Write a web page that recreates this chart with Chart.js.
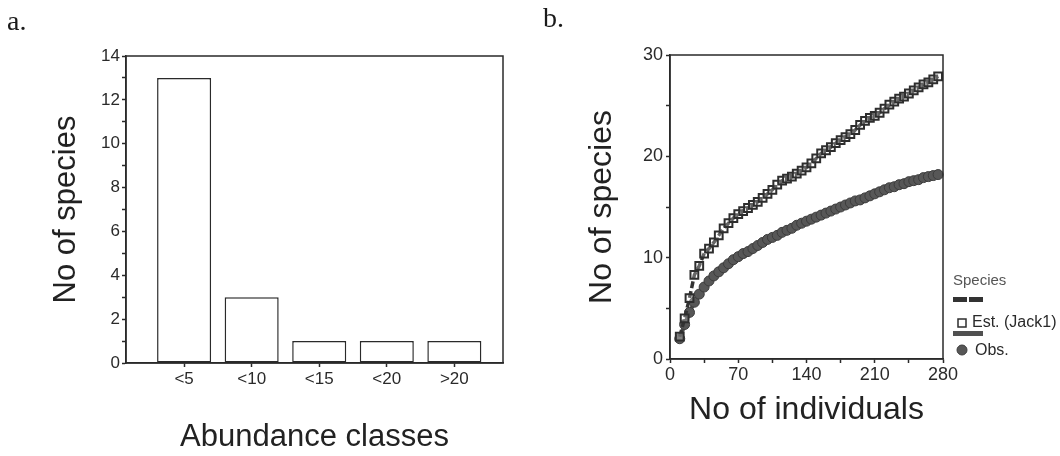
<!DOCTYPE html>
<html lang="en">
<head>
    <meta charset="UTF-8">
    <title>Species abundance and accumulation</title>
    <style>
        body {
            margin: 0;
            background-color: #fff;
        }
        #wrap {
            position: relative;
            width: 1060px;
            height: 456px;
            overflow: hidden;
        }
        .panel {
            position: absolute;
            top: 0;
            width: 530px;
            height: 456px;
        }
        #panelA { left: 0; }
        #panelB { left: 530px; }
    </style>
    <script src="https://cdn.jsdelivr.net/npm/chart.js"></script>
</head>
<body>
    <div id="wrap">
        <div class="panel" id="panelA"><canvas id="abundChart"></canvas></div>
        <div class="panel" id="panelB"><canvas id="accumChart"></canvas></div>
    </div>

    <script>
        // a. number of species per abundance class
        const abundanceClasses = ['<5', '<10', '<15', '<20', '>20'];
        const speciesCount = [13, 3, 1, 1, 1];

        // b. accumulation curves: sample size vs species
        const individuals = [10, 15, 20, 25, 30, 35, 40, 45, 50, 55, 60, 65, 70, 75, 80, 85, 90, 95,
            100, 105, 110, 115, 120, 125, 130, 135, 140, 145, 150, 155, 160, 165, 170, 175, 180, 185,
            190, 195, 200, 205, 210, 215, 220, 225, 230, 235, 240, 245, 250, 255, 260, 265, 270, 275];
        const estJack1 = [2.2, 4.0, 6.0, 8.3, 9.2, 10.4, 10.9, 11.5, 12.2, 12.9, 13.4, 13.9, 14.3, 14.6,
            14.9, 15.2, 15.5, 15.9, 16.3, 16.7, 17.2, 17.6, 17.8, 18.0, 18.3, 18.6, 18.9, 19.3, 19.8,
            20.3, 20.6, 20.9, 21.3, 21.6, 21.9, 22.2, 22.6, 23.1, 23.5, 23.8, 24.0, 24.3, 24.7, 25.1,
            25.4, 25.7, 25.9, 26.2, 26.5, 26.8, 27.1, 27.3, 27.6, 27.9];
        const observed = [2.0, 3.4, 4.6, 5.6, 6.4, 7.1, 7.7, 8.2, 8.6, 9.0, 9.4, 9.8, 10.1, 10.4,
            10.6, 10.9, 11.2, 11.5, 11.8, 12.0, 12.2, 12.5, 12.7, 12.9, 13.2, 13.4, 13.6, 13.8, 14.0,
            14.2, 14.4, 14.6, 14.8, 15.0, 15.2, 15.4, 15.6, 15.7, 15.9, 16.1, 16.3, 16.5, 16.7, 16.9,
            17.0, 17.2, 17.3, 17.5, 17.6, 17.7, 17.9, 18.0, 18.1, 18.2];

        const sans = '"Liberation Sans", Arial, sans-serif';
        const ink = '#2a2a2a';
        Chart.defaults.font.family = sans;
        Chart.defaults.color = ink;

        // box around the plot area plus the panel letter
        const panelFrame = {
            id: 'panelFrame',
            afterDraw(chart, args, opts) {
                const { ctx, chartArea: a } = chart;
                ctx.save();
                ctx.strokeStyle = ink;
                ctx.lineWidth = 1.5;
                ctx.strokeRect(a.left, a.top, a.right - a.left, a.bottom - a.top);
                ctx.fillStyle = '#1a1a1a';
                ctx.font = '28px "Liberation Serif", "DejaVu Serif", serif';
                ctx.textBaseline = 'alphabetic';
                ctx.fillText(opts.tag, opts.tagX, opts.tagY);
                ctx.restore();
            }
        };

        // "Species" key drawn to the right of panel b
        const speciesKey = {
            id: 'speciesKey',
            afterDraw(chart) {
                const ctx = chart.ctx;
                const x = chart.chartArea.right + 10;
                const est = chart.data.datasets[0];
                const obs = chart.data.datasets[1];
                ctx.save();
                ctx.textBaseline = 'middle';
                ctx.font = '15px ' + sans;
                ctx.fillStyle = '#555';
                ctx.fillText('Species', x, 281);

                // dashed swatch
                ctx.fillStyle = est.borderColor;
                ctx.fillRect(x, 297, 14, 5);
                ctx.fillRect(x + 16, 297, 14, 5);
                // square marker
                ctx.fillStyle = '#fff';
                ctx.strokeStyle = est.pointBorderColor;
                ctx.lineWidth = 1.5;
                ctx.fillRect(x + 5, 319, 8, 8);
                ctx.strokeRect(x + 5, 319, 8, 8);
                ctx.fillStyle = ink;
                ctx.font = '16px ' + sans;
                ctx.fillText('Est. (Jack1)', x + 19, 323);

                // solid swatch
                ctx.fillStyle = obs.borderColor;
                ctx.fillRect(x, 331, 30, 5);
                // circle marker
                ctx.beginPath();
                ctx.arc(x + 9, 350, 5, 0, Math.PI * 2);
                ctx.fillStyle = obs.pointBackgroundColor;
                ctx.fill();
                ctx.strokeStyle = obs.pointBorderColor;
                ctx.lineWidth = 1;
                ctx.stroke();
                ctx.fillStyle = ink;
                ctx.fillText('Obs.', x + 22, 351);
                ctx.restore();
            }
        };

        const tickGrid = {
            drawOnChartArea: false,
            tickLength: 4,
            tickColor: ink,
            tickWidth: 1.5,
            offset: false
        };

        new Chart(document.getElementById('abundChart'), {
            type: 'bar',
            data: {
                datasets: [{
                    data: abundanceClasses.map((c, i) => ({ x: i, y: speciesCount[i] })),
                    backgroundColor: '#fff',
                    borderColor: ink,
                    borderWidth: 1.5,
                    borderSkipped: false,
                    barPercentage: 0.8,
                    categoryPercentage: 1
                }]
            },
            options: {
                responsive: true,
                maintainAspectRatio: false,
                animation: false,
                layout: { padding: { top: 56, right: 27, left: 0, bottom: 0 } },
                plugins: {
                    legend: { display: false },
                    tooltip: { enabled: false },
                    panelFrame: { tag: 'a.', tagX: 7, tagY: 30 }
                },
                scales: {
                    x: {
                        type: 'linear',
                        min: -0.86,
                        max: 4.72,
                        offset: false,
                        afterBuildTicks: s => { s.ticks = abundanceClasses.map((c, i) => ({ value: i })); },
                        afterFit: s => { s.height = 93; },
                        grid: tickGrid,
                        border: { color: ink, width: 1.5 },
                        ticks: {
                            callback: v => abundanceClasses[v],
                            font: { size: 17 },
                            padding: 2,
                            maxRotation: 0,
                            autoSkip: false
                        },
                        title: {
                            display: true,
                            text: 'Abundance classes',
                            font: { size: 31 },
                            color: '#222',
                            padding: { top: 0, bottom: 0 }
                        }
                    },
                    y: {
                        min: 0,
                        max: 14,
                        afterFit: s => { s.width = 126; },
                        grid: tickGrid,
                        border: { color: ink, width: 1.5 },
                        ticks: {
                            stepSize: 1,
                            autoSkip: false,
                            callback: v => (v % 2 === 0 ? v : ''),
                            font: { size: 17 },
                            padding: 2
                        },
                        title: {
                            display: true,
                            text: 'No of species',
                            font: { size: 31 },
                            color: '#222',
                            padding: { top: 48, bottom: 0 }
                        }
                    }
                }
            },
            plugins: [panelFrame]
        });

        new Chart(document.getElementById('accumChart'), {
            type: 'line',
            data: {
                datasets: [{
                    label: 'Est. (Jack1)',
                    data: individuals.map((n, i) => ({ x: n, y: estJack1[i] })),
                    borderColor: '#333',
                    borderWidth: 3.5,
                    borderDash: [7, 3],
                    pointStyle: 'rect',
                    pointRadius: 5.5,
                    pointBackgroundColor: 'rgba(255,255,255,0.25)',
                    pointBorderColor: '#2e2e2e',
                    pointBorderWidth: 2,
                    tension: 0,
                    clip: false
                }, {
                    label: 'Obs.',
                    data: individuals.map((n, i) => ({ x: n, y: observed[i] })),
                    borderColor: '#505050',
                    borderWidth: 4,
                    pointStyle: 'circle',
                    pointRadius: 5,
                    pointBackgroundColor: '#575757',
                    pointBorderColor: '#3c3c3c',
                    pointBorderWidth: 1,
                    tension: 0,
                    clip: false
                }]
            },
            options: {
                responsive: true,
                maintainAspectRatio: false,
                animation: false,
                layout: { padding: { top: 55, right: 117, left: 0, bottom: 0 } },
                plugins: {
                    legend: { display: false },
                    tooltip: { enabled: false },
                    panelFrame: { tag: 'b.', tagX: 13, tagY: 27 }
                },
                scales: {
                    x: {
                        type: 'linear',
                        min: 0,
                        max: 280,
                        afterFit: s => { s.height = 97; },
                        grid: tickGrid,
                        border: { color: ink, width: 1.5 },
                        ticks: {
                            stepSize: 35,
                            autoSkip: false,
                            maxRotation: 0,
                            callback: v => (v % 70 === 0 ? v : ''),
                            font: { size: 18 },
                            padding: 1
                        },
                        title: {
                            display: true,
                            text: 'No of individuals',
                            font: { size: 32 },
                            color: '#222',
                            padding: { top: 0, bottom: 27 }
                        }
                    },
                    y: {
                        min: 0,
                        max: 30,
                        afterFit: s => { s.width = 140; },
                        grid: tickGrid,
                        border: { color: ink, width: 1.5 },
                        ticks: {
                            stepSize: 5,
                            autoSkip: false,
                            callback: v => (v % 10 === 0 ? v : ''),
                            font: { size: 18 },
                            padding: 3
                        },
                        title: {
                            display: true,
                            text: 'No of species',
                            font: { size: 32 },
                            color: '#222',
                            padding: { top: 53, bottom: 0 }
                        }
                    }
                }
            },
            plugins: [panelFrame, speciesKey]
        });
    </script>
</body>
</html>
